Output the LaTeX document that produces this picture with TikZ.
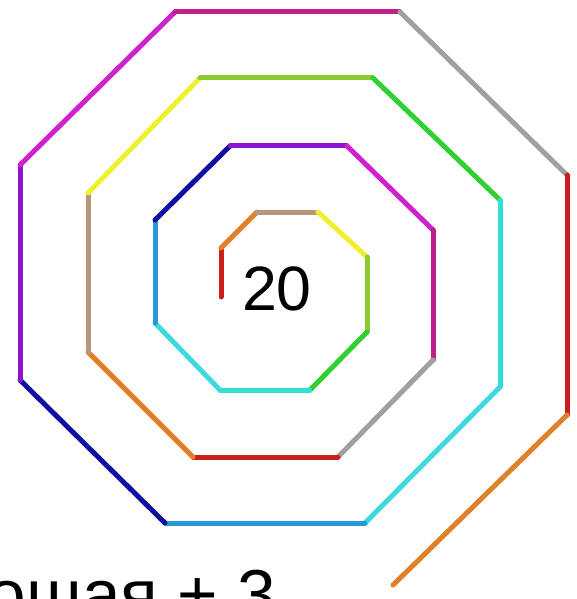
\documentclass[tikz,border=0pt]{standalone}
\usepackage{fontspec}
\setmainfont{Liberation Sans}

\definecolor{sred}{HTML}{C81E1E}
\definecolor{sorange}{HTML}{E0802A}
\definecolor{stan}{HTML}{B8967A}
\definecolor{syellow}{HTML}{F0F032}
\definecolor{slime}{HTML}{8CC832}
\definecolor{sgreen}{HTML}{30D030}
\definecolor{sturq}{HTML}{30E0D8}
\definecolor{scyan}{HTML}{40D8E0}
\definecolor{sblue}{HTML}{2898D8}
\definecolor{snavy}{HTML}{1010A0}
\definecolor{spurple}{HTML}{8C14D0}
\definecolor{smagenta}{HTML}{D020D0}
\definecolor{sviolet}{HTML}{C0208C}
\definecolor{sgray}{HTML}{A0A0A0}

\begin{document}
\begin{tikzpicture}[
  x=0.75pt, y=-0.75pt,
  seg/.style={line width=3.75pt, line cap=round},
  num/.style={inner sep=0pt, anchor=base, font=\fontsize{47}{50}\selectfont},
  caption/.style={inner sep=0pt, anchor=base east, font=\fontsize{52}{56}\selectfont}
]
  \useasboundingbox (0,0) rectangle (576,599);
  \clip (0,0) rectangle (576,599);

  % spiral corners, from the centre outwards
  \coordinate (p0)  at (221,297);
  \coordinate (p1)  at (221,248);
  \coordinate (p2)  at (257,212);
  \coordinate (p3)  at (318,212);
  \coordinate (p4)  at (367,257);
  \coordinate (p5)  at (367,332);
  \coordinate (p6)  at (310,390);
  \coordinate (p7)  at (220,390);
  \coordinate (p8)  at (155,323);
  \coordinate (p9)  at (155,220);
  \coordinate (p10) at (230,146);
  \coordinate (p11) at (347,146);
  \coordinate (p12) at (433,230);
  \coordinate (p13) at (433,360);
  \coordinate (p14) at (338,457);
  \coordinate (p15) at (193,457);
  \coordinate (p16) at (88,352);
  \coordinate (p17) at (88,193);
  \coordinate (p18) at (200,78);
  \coordinate (p19) at (373,78);
  \coordinate (p20) at (500,200);
  \coordinate (p21) at (500,387);
  \coordinate (p22) at (365,523);
  \coordinate (p23) at (165,523);
  \coordinate (p24) at (20,380);
  \coordinate (p25) at (20,165);
  \coordinate (p26) at (175,12);
  \coordinate (p27) at (400,12);
  \coordinate (p28) at (567,175);
  \coordinate (p29) at (567,415);
  \coordinate (p30) at (393,585);

  \draw[seg, sred]     (p0)  -- (p1);
  \draw[seg, sorange]  (p1)  -- (p2);
  \draw[seg, stan]     (p2)  -- (p3);
  \draw[seg, syellow]  (p3)  -- (p4);
  \draw[seg, slime]    (p4)  -- (p5);
  \draw[seg, sgreen]   (p5)  -- (p6);
  \draw[seg, sturq]    (p6)  -- (p7);
  \draw[seg, scyan]    (p7)  -- (p8);
  \draw[seg, sblue]    (p8)  -- (p9);
  \draw[seg, snavy]    (p9)  -- (p10);
  \draw[seg, spurple]  (p10) -- (p11);
  \draw[seg, smagenta] (p11) -- (p12);
  \draw[seg, sviolet]  (p12) -- (p13);
  \draw[seg, sgray]    (p13) -- (p14);
  \draw[seg, sred]     (p14) -- (p15);
  \draw[seg, sorange]  (p15) -- (p16);
  \draw[seg, stan]     (p16) -- (p17);
  \draw[seg, syellow]  (p17) -- (p18);
  \draw[seg, slime]    (p18) -- (p19);
  \draw[seg, sgreen]   (p19) -- (p20);
  \draw[seg, sturq]    (p20) -- (p21);
  \draw[seg, scyan]    (p21) -- (p22);
  \draw[seg, sblue]    (p22) -- (p23);
  \draw[seg, snavy]    (p23) -- (p24);
  \draw[seg, spurple]  (p24) -- (p25);
  \draw[seg, smagenta] (p25) -- (p26);
  \draw[seg, sviolet]  (p26) -- (p27);
  \draw[seg, sgray]    (p27) -- (p28);
  \draw[seg, sred]     (p28) -- (p29);
  \draw[seg, sorange]  (p29) -- (p30);

  \node[num] (count) at (277,310) {20};
  \node[caption] (rule) at (276,618) {ошая + 3};
\end{tikzpicture}
\end{document}
